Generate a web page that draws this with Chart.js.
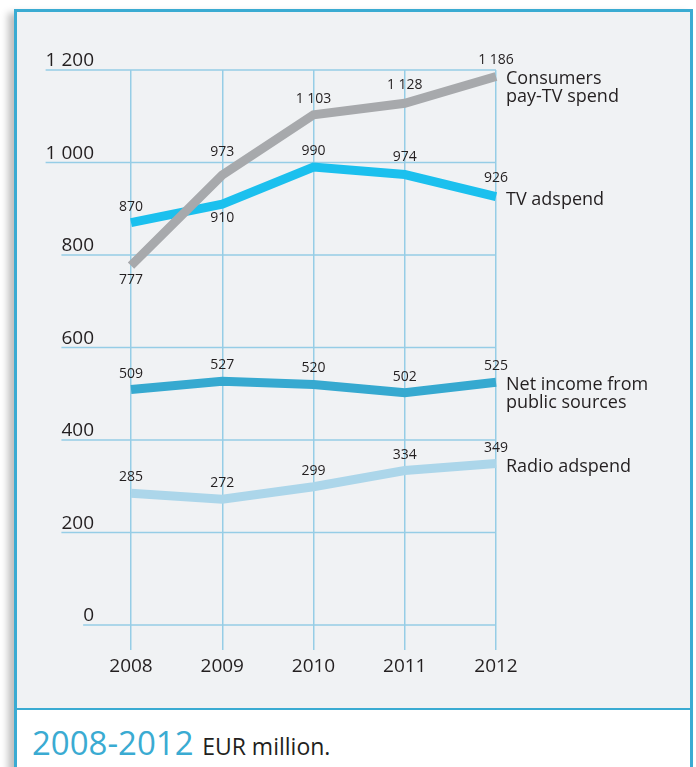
<!DOCTYPE html>
<html><head><meta charset="utf-8">
<script src="https://cdn.jsdelivr.net/npm/chart.js@4/dist/chart.umd.min.js"></script>
<style>
html,body{margin:0;padding:0;background:#fff;width:696px;height:767px;overflow:hidden;font-family:"Open Sans",sans-serif;}
#frame{position:absolute;left:14px;top:9px;width:673px;height:800px;border:3px solid #3aabd2;border-bottom:none;background:#fff;box-shadow:-6px 4px 7px rgba(0,0,0,0.25);}
#plot{position:absolute;left:0;top:0;width:673px;height:696px;background:#f0f2f4;border-bottom:2px solid #3aabd2;}
#wrap{position:absolute;left:0;top:0;width:696px;height:708px;z-index:2;}
#caption{position:absolute;left:32px;top:726px;line-height:1;white-space:nowrap;z-index:3;}
#caption .big{font-size:33px;color:#3aabd2;}
#caption .small{font-size:23px;color:#231f20;}
</style></head>
<body>
<div id="frame"><div id="plot"></div></div>
<div id="wrap"><canvas id="c" width="696" height="708"></canvas></div>
<div id="caption"><span class="big">2008-2012 </span><span class="small">EUR million.</span></div>
<script>
// ---- data ----
const years = ['2008', '2009', '2010', '2011', '2012'];
const payTV = [777, 973, 1103, 1128, 1186];
const tvAdspend = [870, 910, 990, 974, 926];
const netIncome = [509, 527, 520, 502, 525];
const radioAdspend = [285, 272, 299, 334, 349];
const yTickValues = [0, 200, 400, 600, 800, 1000, 1200];
const yTickLabels = ['0', '200', '400', '600', '800', '1 000', '1 200'];
const seriesNames = [['Consumers', 'pay-TV spend'], ['TV adspend'], ['Net income from', 'public sources'], ['Radio adspend']];

// ---- styling ----
const gridColor = '#96cde6';
const gridWidth = 1.5;
const textColor = '#231f20';
const font = '"Open Sans", sans-serif';
// label placement: default above; exceptions (datasetIndex-pointIndex): pixel offset
const labelOffsetDefault = -16;
const labelOffsetExceptions = {'0-0': 14, '1-1': 14, '0-1': -23, '0-3': -18, '1-3': -18, '1-4': -19};

function fmt(v) { return String(v).replace(/\B(?=(\d{3})+(?!\d))/g, ' '); }

const overlay = {
  id: 'overlay',
  beforeDatasetsDraw(chart) {
    const {ctx, chartArea: a} = chart;
    const y = chart.scales.y;
    ctx.save();
    ctx.font = '19px ' + font;
    ctx.fillStyle = textColor;
    ctx.textAlign = 'right';
    ctx.textBaseline = 'alphabetic';
    ctx.strokeStyle = gridColor;
    ctx.lineWidth = gridWidth;
    const labelRight = 94;
    yTickValues.forEach((v, i) => {
      const py = y.getPixelForValue(v);
      const w = ctx.measureText(yTickLabels[i]).width;
      ctx.beginPath();
      ctx.moveTo(labelRight - w, py);
      ctx.lineTo(a.right, py);
      ctx.stroke();
      ctx.fillText(yTickLabels[i], labelRight, py - 4);
    });
    ctx.restore();
  },
  afterDatasetsDraw(chart) {
    const {ctx, chartArea: a} = chart;
    ctx.save();
    ctx.fillStyle = textColor;
    chart.data.datasets.forEach((ds, di) => {
      const meta = chart.getDatasetMeta(di);
      ctx.font = '14px ' + font;
      ctx.textAlign = 'center';
      ctx.textBaseline = 'middle';
      meta.data.forEach((pt, pi) => {
        const key = di + '-' + pi;
        const off = (key in labelOffsetExceptions) ? labelOffsetExceptions[key] : labelOffsetDefault;
        ctx.fillText(fmt(ds.data[pi]), pt.x, pt.y + off);
      });
      const last = meta.data[meta.data.length - 1];
      ctx.font = '18px ' + font;
      ctx.textAlign = 'left';
      ctx.textBaseline = 'alphabetic';
      seriesNames[di].forEach((line, li) => {
        ctx.fillText(line, a.right + 10, last.y + 8 + li * 17.5);
      });
    });
    ctx.restore();
  }
};

const lineStyle = {borderWidth: 9, pointRadius: 0, pointHoverRadius: 0, tension: 0, borderCapStyle: 'butt', borderJoinStyle: 'miter', fill: false, clip: false};

new Chart(document.getElementById('c'), {
  type: 'line',
  data: {
    labels: years,
    datasets: [
      Object.assign({label: 'Consumers pay-TV spend', data: payTV, borderColor: '#a7a9ac'}, lineStyle),
      Object.assign({label: 'TV adspend', data: tvAdspend, borderColor: '#1bc0ee'}, lineStyle),
      Object.assign({label: 'Net income from public sources', data: netIncome, borderColor: '#36a9d0'}, lineStyle),
      Object.assign({label: 'Radio adspend', data: radioAdspend, borderColor: '#acd6ea'}, lineStyle)
    ]
  },
  options: {
    responsive: false,
    devicePixelRatio: 1,
    animation: false,
    layout: {padding: {left: 131, right: 200, top: 70, bottom: 0}},
    plugins: {legend: {display: false}, tooltip: {enabled: false}, title: {display: false}},
    scales: {
      x: {
        type: 'category',
        offset: false,
        border: {display: false},
        grid: {color: gridColor, lineWidth: gridWidth, drawTicks: true, tickLength: 25, tickColor: gridColor},
        ticks: {color: textColor, font: {family: font, size: 19}, padding: 5, maxRotation: 0, autoSkip: false},
        afterFit(s) { s.height = 83; }
      },
      y: {display: false, min: 0, max: 1200}
    }
  },
  plugins: [overlay]
});
</script>
</body></html>
